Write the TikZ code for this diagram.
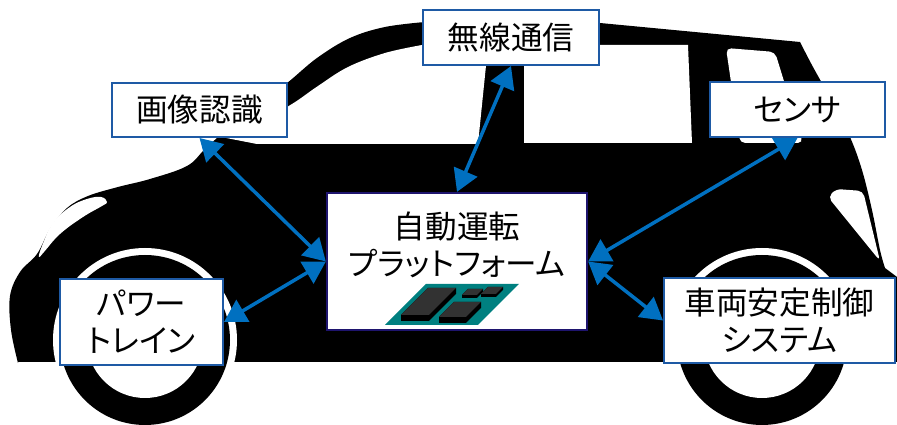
\documentclass[tikz,border=0pt]{standalone}
\usepackage{fontspec}
\setmainfont{Noto Sans CJK JP}[RawFeature=+palt]
\usepackage{tikz}
\usetikzlibrary{arrows.meta, positioning}
\definecolor{boxblue}{RGB}{30,90,165}
\definecolor{navyline}{RGB}{30,20,110}
\definecolor{linkblue}{RGB}{0,112,192}
\definecolor{boardteal}{RGB}{0,128,128}
\definecolor{chipgray}{RGB}{50,50,50}
\newcommand{\pxu}{0.02cm}
\tikzset{
  tag/.style={rectangle, draw=boxblue, line width=0.04cm, fill=white, align=center, inner sep=0pt, font=\fontsize{18}{21}\selectfont},
  platformbox/.style={rectangle, draw=navyline, line width=0.045cm, fill=white, inner sep=0pt},
  link/.style={draw=linkblue, line width=0.07cm, {Triangle[length=0.44cm, width=0.5cm]}-{Triangle[length=0.44cm, width=0.5cm]}}
}
% chip on the board: bottom-left x, y, width, slant height, depth
\newcommand{\chipblock}[5]{
    \fill[black] (#1,#2) -- ++(#4,-#4) -- ++(#3,0) -- ++(0,#5) -- ++(-#4,#4) -- ++(-#3,0) -- cycle;
    \fill[chipgray] (#1,#2) -- ++(#4,-#4) -- ++(#3,0) -- ++(-#4,#4) -- cycle;
}

\begin{document}
\begin{tikzpicture}[x=0.02cm, y=-0.02cm, >=latex]
    \useasboundingbox (0,0) rectangle (897,425);

    % 1. Car body
    \fill[black] plot[smooth, tension=0.6] coordinates {(18,363) (11,330) (10,296) (20,272) (37,254) (50,229) (67,208) (88,196) (118,187) (150,179) (187,166) (206,148) (235,122) (262,100) (287,83) (317,58) (350,38) (385,27) (425,22)}
        -- (600,23) -- (800,42)
        -- plot[smooth, tension=0.6] coordinates {(800,42) (813,67) (833,103) (850,137) (862,170) (872,210) (880,250) (885,268)}
        -- (897,277) -- (897,362) -- (18,362) -- cycle;

    % Windows
    \fill[white] (257,144) -- (216,136) -- plot[smooth, tension=0.6] coordinates {(216,136) (265,118) (292,104) (318,86) (348,67) (385,53) (422,45)} -- (488,46) -- (478,144) -- cycle;
    \fill[white] (524,45) -- (688,45) -- (692,143) -- (524,143) -- cycle;
    \fill[white, rounded corners=3pt] (726,48) -- (775,52) -- (803,143) -- (740,143) -- cycle;

    % Lights
    \fill[white] plot[smooth cycle, tension=0.7] coordinates {(39,257) (42,246) (53,223) (70,207) (87,199) (101,197) (107,202) (102,206) (83,217) (60,234) (44,252)};
    \fill[white, rounded corners=3pt] (828,197) -- (836,189) -- (863,191) -- (880,261) -- cycle;

    % Wheels
    \foreach \cx in {145,762} {
        \fill[white] (\cx,340) circle[radius=92];
        \fill[black] (\cx,340) circle[radius=85];
        \fill[white] (\cx,340) circle[radius=58];
    }

    % 2. Platform box with board
    \node[platformbox, minimum width=260*\pxu, minimum height=137*\pxu] (platform) at (457,261.5) {};
    \node[align=center, inner sep=0pt, font=\fontsize{18}{21}\selectfont] (platformtxt) at (457,245) {自動運転\\プラットフォーム};
    \fill[boardteal] (385,325) -- (426,284) -- (519,284) -- (478,325) -- cycle;
    \chipblock{401}{315}{28}{27}{6}
    \chipblock{439}{317}{27}{15}{6}
    \chipblock{462}{295}{15}{6}{3}
    \chipblock{481}{294}{15}{7}{3}

    % 3. Function boxes
    \node[tag, minimum width=175*\pxu, minimum height=54*\pxu] (imgrec) at (199.5,110) {画像認識};
    \node[tag, minimum width=176*\pxu, minimum height=55*\pxu] (wireless) at (511,37.5) {無線通信};
    \node[tag, minimum width=175*\pxu, minimum height=55*\pxu] (sensor) at (797.5,109.5) {センサ};
    \node[tag, minimum width=163*\pxu, minimum height=86*\pxu] (powertrain) at (141.5,322) {パワー\\トレイン};
    \node[tag, minimum width=231*\pxu, minimum height=85*\pxu] (stability) at (779.5,320.5) {車両安定制御\\システム};

    % 4. Links
    \draw[link] (imgrec.south) -- (platform.west);
    \draw[link] (wireless.south) -- (platform.north);
    \draw[link] (sensor.south) -- (platform.east);
    \draw[link] (powertrain.east) -- (platform.west);
    \draw[link] (stability.west) -- (platform.east);

\end{tikzpicture}
\end{document}
